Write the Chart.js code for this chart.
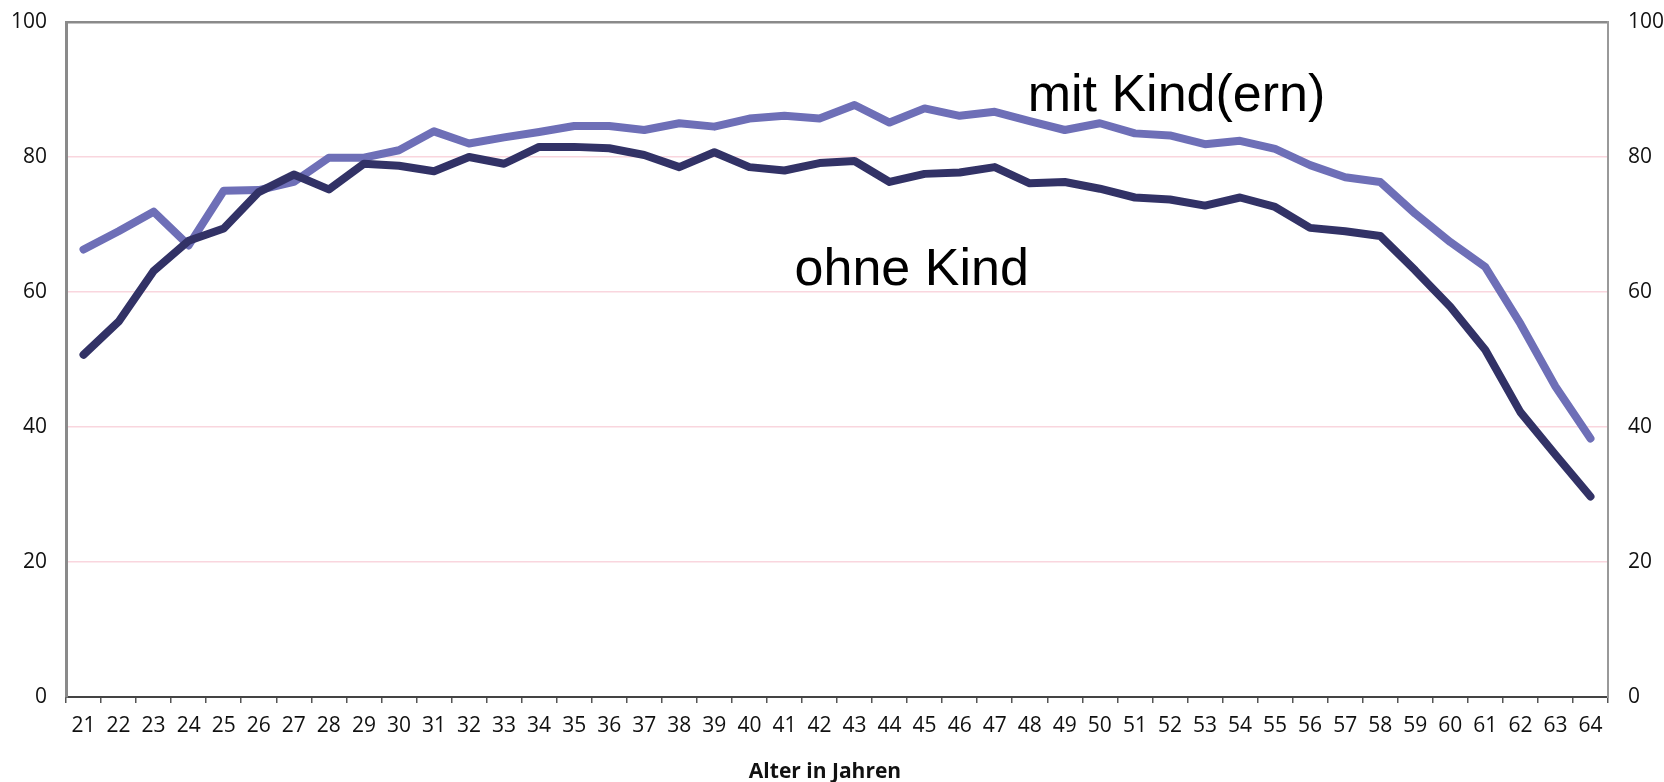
<!DOCTYPE html>
<html>
<head>
<meta charset="utf-8">
<script src="https://cdn.jsdelivr.net/npm/chart.js@4/dist/chart.umd.min.js"></script>
<style>
html,body{margin:0;padding:0;background:#fff;overflow:hidden;}
canvas{display:block;}
</style>
</head>
<body>
<canvas id="c" width="1664" height="782"></canvas>
<script>
const ages = ["21","22","23","24","25","26","27","28","29","30","31","32","33","34","35","36","37","38","39","40","41","42","43","44","45","46","47","48","49","50","51","52","53","54","55","56","57","58","59","60","61","62","63","64"];
const mitKind = [66.3,69.0,71.9,66.9,75.0,75.1,76.3,79.9,79.9,81.0,
                 83.8,82.0,82.9,83.7,84.6,84.6,84.0,85.0,84.5,85.7,
                 86.1,85.7,87.7,85.1,87.2,86.1,86.7,85.3,84.0,85.0,
                 83.5,83.2,81.9,82.4,81.2,78.8,77.0,76.3,71.6,67.4,
                 63.7,55.3,46.0,38.3];
const ohneKind = [50.7,55.6,63.1,67.6,69.4,74.8,77.4,75.2,79.0,78.7,
                  77.9,80.0,79.0,81.5,81.5,81.3,80.3,78.5,80.7,78.5,
                  78.0,79.1,79.4,76.3,77.5,77.7,78.5,76.1,76.3,75.3,
                  74.0,73.7,72.8,74.0,72.6,69.5,69.0,68.3,63.2,57.8,
                  51.4,42.2,35.9,29.7];
const yTicks = [0,20,40,60,80,100];
const labelMit = "mit Kind(ern)";
const labelOhne = "ohne Kind";
const xTitle = "Alter in Jahren";

const fam = '"Open Sans", "Noto Sans", sans-serif';
const tickFont = {family:fam, size:21};

const annotations = {
  id:'annotations',
  afterDatasetsDraw(chart){
    const ctx = chart.ctx, x = chart.scales.x, y = chart.scales.y, a = chart.chartArea;
    ctx.save();
    ctx.font = '52px "Liberation Sans", Arial, sans-serif';
    ctx.fillStyle = '#000';
    ctx.textBaseline = 'alphabetic';
    ctx.textAlign = 'left';
    ctx.fillText(labelMit, x.getPixelForValue(26.94), y.getPixelForValue(86.8));
    ctx.fillText(labelOhne, x.getPixelForValue(20.29), y.getPixelForValue(61.0));
    // x axis title
    ctx.font = 'bold 21px ' + fam;
    ctx.fillStyle = '#111';
    ctx.textAlign = 'center';
    ctx.textBaseline = 'middle';
    ctx.fillText(xTitle, (a.left + a.right) / 2 - 12, a.bottom + 75);
    ctx.restore();
  }
};

function fixV(w){ return function(s){ s.width = w; s.paddingTop = 0; s.paddingBottom = 0; }; }

new Chart(document.getElementById('c'), {
  type:'line',
  data:{
    labels: ages,
    datasets:[
      {label:labelOhne, data:ohneKind, borderColor:'#323266', borderWidth:8, pointRadius:0, borderCapStyle:'round', borderJoinStyle:'round', tension:0, order:0},
      {label:labelMit, data:mitKind, borderColor:'#6e6fb7', borderWidth:8, pointRadius:0, borderCapStyle:'round', borderJoinStyle:'round', tension:0, order:1}
    ]
  },
  options:{
    responsive:false,
    animation:false,
    devicePixelRatio:1,
    layout:{padding:{top:22,left:0,right:0,bottom:0}},
    plugins:{legend:{display:false}, tooltip:{enabled:false}},
    scales:{
      x:{
        offset:true,
        grid:{offset:true, drawOnChartArea:false, drawTicks:true, tickLength:6, color:'#555', lineWidth:1.5},
        border:{color:'#444', width:2},
        ticks:{font:tickFont, color:'#111', padding:10, maxRotation:0, autoSkip:false},
        title:{display:false},
        afterFit(s){ s.height = 85; s.paddingLeft = 0; s.paddingRight = 0; }
      },
      y:{
        position:'left', min:0, max:100,
        afterBuildTicks(s){ s.ticks = yTicks.map(v=>({value:v})); },
        ticks:{font:tickFont, color:'#111', padding:19},
        grid:{drawTicks:false,
          color:(c)=> c.tick && c.tick.value===100 ? '#8a8a8a' : (c.tick && c.tick.value===0 ? 'rgba(0,0,0,0)' : '#f9d6de'),
          lineWidth:(c)=> c.tick && c.tick.value===100 ? 2.5 : 1.5},
        border:{color:'#8a8a8a', width:3},
        afterFit: fixV(66)
      },
      y2:{
        position:'right', min:0, max:100,
        afterBuildTicks(s){ s.ticks = yTicks.map(v=>({value:v})); },
        ticks:{font:tickFont, color:'#111', padding:20},
        grid:{drawOnChartArea:false, drawTicks:false},
        border:{color:'#999', width:2},
        afterFit: fixV(56)
      }
    }
  },
  plugins:[annotations]
});
</script>
</body>
</html>
